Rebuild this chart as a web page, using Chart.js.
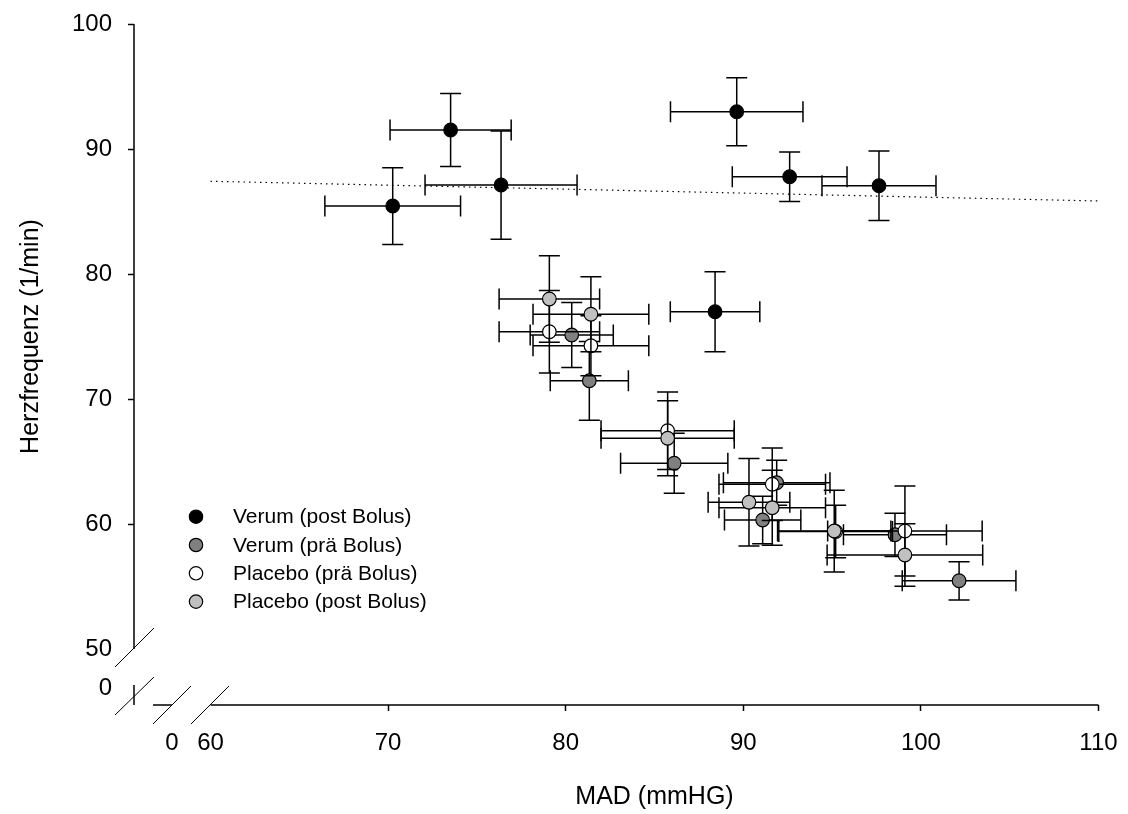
<!DOCTYPE html>
<html>
<head>
<meta charset="utf-8">
<script src="https://cdn.jsdelivr.net/npm/chart.js@4.4.0/dist/chart.umd.min.js"></script>
<style>
  html, body { margin: 0; padding: 0; background: #fff; }
</style>
</head>
<body>
<canvas id="c" width="1128" height="814"></canvas>
<script>
// Daten (MAD in mmHG, Herzfrequenz in 1/min, Fehler = halbe Balkenlänge)
const seriesNames = ['Verum (post Bolus)', 'Verum (prä Bolus)', 'Placebo (prä Bolus)', 'Placebo (post Bolus)'];

const verumPostX    = [73.52, 76.36, 70.26, 89.63, 92.61, 97.64, 88.41];
const verumPostY    = [91.52, 87.12, 85.44, 92.98, 87.78, 87.06, 76.98];
const verumPostXErr = [3.41, 4.28, 3.82, 3.73, 3.23, 3.21, 2.52];
const verumPostYErr = [2.92, 4.33, 3.07, 2.72, 1.98, 2.78, 3.20];

const verumPraeX    = [80.34, 81.33, 86.11, 91.09, 91.88, 98.54, 102.15];
const verumPraeY    = [75.12, 71.46, 64.86, 60.32, 63.30, 59.14, 55.46];
const verumPraeXErr = [2.34, 2.20, 3.02, 2.15, 3.00, 2.90, 3.20];
const verumPraeYErr = [2.60, 3.15, 2.40, 1.90, 1.80, 1.73, 1.53];

const placeboPraeX    = [79.08, 81.42, 85.74, 91.63, 99.10, 95.20];
const placeboPraeY    = [75.38, 74.26, 67.46, 63.18, 59.44, 59.40];
const placeboPraeXErr = [2.83, 3.26, 3.75, 3.00, 4.35, 3.20];
const placeboPraeYErr = [3.30, 2.40, 3.10, 2.90, 3.60, 2.10];

const placeboPostX    = [79.08, 81.42, 85.74, 90.32, 91.63, 95.12, 99.10];
const placeboPostY    = [78.00, 76.78, 66.86, 61.74, 61.30, 59.44, 57.52];
const placeboPostXErr = [2.83, 3.26, 3.75, 2.30, 3.00, 3.19, 4.38];
const placeboPostYErr = [3.46, 3.00, 3.00, 3.50, 3.00, 3.27, 2.50];

// Regressionsgerade (gepunktet)
const regX = [60, 110];
const regY = [87.42, 85.84];

// Achsen mit Bruch: erster Tick "0" sitzt vor dem Bruch
const xTickValues = [57.833, 60, 70, 80, 90, 100, 110];
const xTickLabels = ['0', '60', '70', '80', '90', '100', '110'];
const yTickValues = [46.88, 50, 60, 70, 80, 90, 100];
const yTickLabels = ['0', '50', '60', '70', '80', '90', '100'];

const FONT = 'Arial, "Liberation Sans", sans-serif';
const CAP = 10.5;

const pts = (xs, ys) => xs.map((x, i) => ({ x: x, y: ys[i] }));

// feste Achsenmaße, keine zusätzliche Label-Polsterung
const fixSize = (w, h) => s => {
  if (w) s.width = w;
  if (h) s.height = h;
  s.paddingTop = s.paddingBottom = s.paddingLeft = s.paddingRight = 0;
};

const errorBars = {
  id: 'errorBars',
  beforeDatasetDraw(chart, args) {
    const ds = chart.data.datasets[args.index];
    if (!ds.errX) return;
    const xs = chart.scales.x, ys = chart.scales.y, ctx = chart.ctx;
    ctx.save();
    ctx.strokeStyle = '#000';
    ctx.lineWidth = 1.5;
    ds.data.forEach((p, i) => {
      const cx = xs.getPixelForValue(p.x), cy = ys.getPixelForValue(p.y);
      const x0 = xs.getPixelForValue(p.x - ds.errX[i]), x1 = xs.getPixelForValue(p.x + ds.errX[i]);
      const y0 = ys.getPixelForValue(p.y - ds.errY[i]), y1 = ys.getPixelForValue(p.y + ds.errY[i]);
      ctx.beginPath();
      ctx.moveTo(x0, cy); ctx.lineTo(x1, cy);
      ctx.moveTo(x0, cy - CAP); ctx.lineTo(x0, cy + CAP);
      ctx.moveTo(x1, cy - CAP); ctx.lineTo(x1, cy + CAP);
      ctx.moveTo(cx, y0); ctx.lineTo(cx, y1);
      ctx.moveTo(cx - CAP, y0); ctx.lineTo(cx + CAP, y0);
      ctx.moveTo(cx - CAP, y1); ctx.lineTo(cx + CAP, y1);
      ctx.stroke();
    });
    ctx.restore();
  }
};

// Achsenlinien mit Bruchzeichen, Achsentitel, Legende
const decor = {
  id: 'decor',
  afterDraw(chart) {
    const ctx = chart.ctx, xs = chart.scales.x, ys = chart.scales.y, a = chart.chartArea;
    const ax = a.left, ay = a.bottom;
    const p50 = ys.getPixelForValue(50), p100 = ys.getPixelForValue(100);
    const p60 = xs.getPixelForValue(60), p110 = xs.getPixelForValue(110);
    ctx.save();
    ctx.strokeStyle = '#000';
    ctx.lineWidth = 1.5;
    ctx.beginPath();
    ctx.moveTo(ax, a.top); ctx.lineTo(ax, p50);
    ctx.moveTo(ax, p50 + 36); ctx.lineTo(ax, ay);
    ctx.moveTo(p60 - 57.5, ay); ctx.lineTo(p60 - 38.5, ay);
    ctx.moveTo(p60, ay); ctx.lineTo(p110, ay);
    ctx.stroke();
    ctx.lineWidth = 1;
    ctx.beginPath();
    ctx.moveTo(ax - 19, p50 + 18); ctx.lineTo(ax + 20, p50 - 21);
    ctx.moveTo(ax - 19, p50 + 66); ctx.lineTo(ax + 20, p50 + 28);
    ctx.moveTo(p60 - 57.5, ay + 19); ctx.lineTo(p60 - 19.5, ay - 19);
    ctx.moveTo(p60 - 19.5, ay + 19); ctx.lineTo(p60 + 18.5, ay - 19);
    ctx.stroke();

    ctx.fillStyle = '#000';
    ctx.font = '25px ' + FONT;
    ctx.textAlign = 'center';
    ctx.textBaseline = 'middle';
    ctx.fillText('MAD (mmHG)', (p60 + p110) / 2, 797);
    ctx.save();
    ctx.translate(31, (p50 + p100) / 2);
    ctx.rotate(-Math.PI / 2);
    ctx.fillText('Herzfrequenz (1/min)', 0, 0);
    ctx.restore();

    ctx.font = '21px ' + FONT;
    ctx.textAlign = 'left';
    chart.data.datasets.forEach((ds, i) => {
      if (!ds.errX) return;
      const y = 516.7 + i * 28.3;
      ctx.beginPath();
      ctx.arc(196, y, 6.7, 0, Math.PI * 2);
      ctx.fillStyle = ds.backgroundColor;
      ctx.fill();
      ctx.lineWidth = 1.2;
      ctx.stroke();
      ctx.fillStyle = '#000';
      ctx.fillText(ds.label, 233, y + 1);
    });
    ctx.restore();
  }
};

const mkSeries = (i, xs, ys, ex, ey, color, order) => ({
  type: 'scatter',
  label: seriesNames[i],
  data: pts(xs, ys),
  errX: ex,
  errY: ey,
  backgroundColor: color,
  borderColor: '#000',
  borderWidth: 1.2,
  pointRadius: 6.8,
  order: order
});

new Chart(document.getElementById('c'), {
  type: 'scatter',
  data: {
    datasets: [
      mkSeries(0, verumPostX, verumPostY, verumPostXErr, verumPostYErr, '#000000', 4),
      mkSeries(1, verumPraeX, verumPraeY, verumPraeXErr, verumPraeYErr, '#808080', 3),
      mkSeries(2, placeboPraeX, placeboPraeY, placeboPraeXErr, placeboPraeYErr, '#ffffff', 2),
      mkSeries(3, placeboPostX, placeboPostY, placeboPostXErr, placeboPostYErr, '#c0c0c0', 1),
      {
        type: 'line',
        label: 'Regression',
        data: pts(regX, regY),
        borderColor: '#000',
        borderWidth: 1.2,
        borderDash: [1.5, 4],
        pointRadius: 0,
        fill: false,
        order: 5
      }
    ]
  },
  options: {
    responsive: false,
    animation: false,
    layout: { padding: { top: 24, right: 29.5, left: 0, bottom: 0 } },
    plugins: { legend: { display: false }, tooltip: { enabled: false } },
    scales: {
      x: {
        type: 'linear',
        min: 55.693,
        max: 110,
        afterBuildTicks: s => { s.ticks = xTickValues.map(v => ({ value: v })); },
        afterFit: fixSize(0, 109),
        border: { display: false },
        grid: {
          drawOnChartArea: false,
          drawTicks: true,
          tickLength: 6,
          tickWidth: 1.5,
          tickColor: c => (c.tick && c.tick.value >= 70 ? '#000' : 'rgba(0,0,0,0)')
        },
        ticks: {
          autoSkip: false,
          maxRotation: 0,
          padding: 18,
          color: '#000',
          font: { size: 24, family: FONT },
          callback: (v, i) => xTickLabels[i]
        }
      },
      y: {
        type: 'linear',
        min: 45.52,
        max: 100,
        afterBuildTicks: s => { s.ticks = yTickValues.map(v => ({ value: v })); },
        afterFit: fixSize(134, 0),
        border: { display: false },
        grid: {
          drawOnChartArea: false,
          drawTicks: true,
          tickLength: 6,
          tickWidth: 1.5,
          tickColor: c => (c.tick && c.tick.value >= 60 ? '#000' : 'rgba(0,0,0,0)')
        },
        ticks: {
          autoSkip: false,
          padding: 16,
          color: '#000',
          font: { size: 24, family: FONT },
          callback: (v, i) => yTickLabels[i]
        }
      }
    }
  },
  plugins: [errorBars, decor]
});
</script>
</body>
</html>
